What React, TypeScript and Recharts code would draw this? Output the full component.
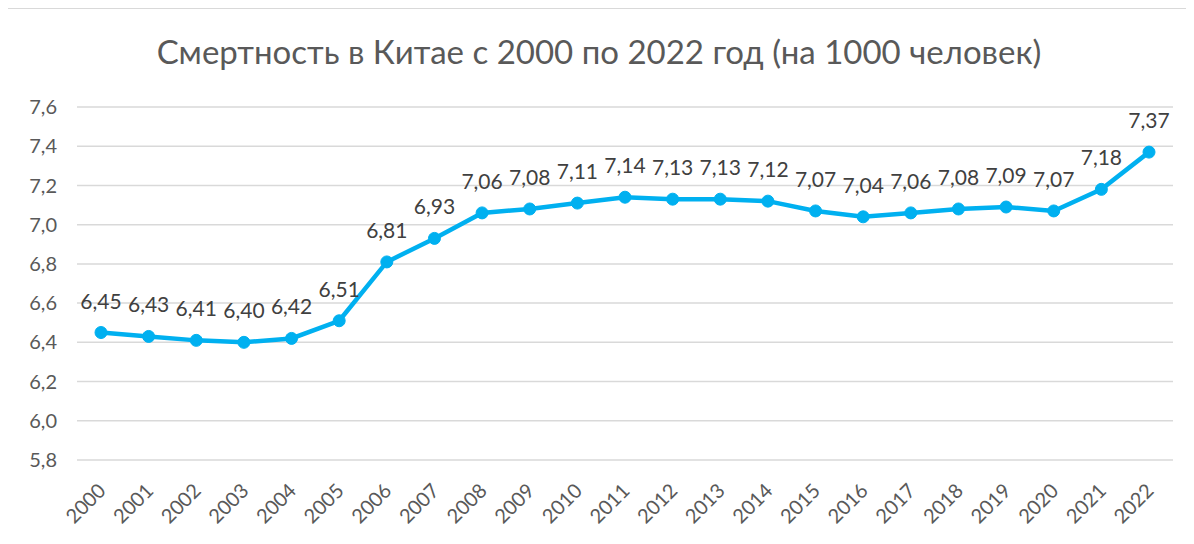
import React from "react";
import {
  LineChart,
  Line,
  XAxis,
  YAxis,
  CartesianGrid,
  LabelList,
} from "recharts";

const years = [
  "2000", "2001", "2002", "2003", "2004", "2005", "2006", "2007", "2008", "2009", "2010", "2011",
  "2012", "2013", "2014", "2015", "2016", "2017", "2018", "2019", "2020", "2021", "2022",
];
const deathRate = [
  6.45, 6.43, 6.41, 6.4, 6.42, 6.51, 6.81, 6.93, 7.06, 7.08, 7.11, 7.14,
  7.13, 7.13, 7.12, 7.07, 7.04, 7.06, 7.08, 7.09, 7.07, 7.18, 7.37,
];
const yTicks = [5.8, 6.0, 6.2, 6.4, 6.6, 6.8, 7.0, 7.2, 7.4, 7.6];

const data = years.map((year, i) => ({ year, rate: deathRate[i] }));

const fmt = (v: number, digits: number) => v.toFixed(digits).replace(".", ",");

const FONT = "Lato, 'Open Sans', sans-serif";

const YearTick = (props: any) => {
  const { x, y, payload } = props;
  return (
    <g transform={`translate(${x + 6},${y + 24})`}>
      <text
        textAnchor="end"
        transform="rotate(-45)"
        fill="#595959"
        fontSize={20}
        fontFamily={FONT}
      >
        {payload.value}
      </text>
    </g>
  );
};

const App: React.FC = () => {
  return (
    <div
      style={{
        position: "relative",
        width: 1186,
        height: 545,
        marginLeft: -2,
        border: "1px solid #d9d9d9",
        boxSizing: "border-box",
        background: "#fff",
      }}
    >
      <div
        style={{
          position: "absolute",
          top: 22,
          left: 0,
          width: "100%",
          textAlign: "center",
          fontFamily: FONT,
          fontSize: 33,
          color: "#595959",
        }}
      >
        Смертность в Китае с 2000 по 2022 год (на 1000 человек)
      </div>
      <LineChart
        width={1186}
        height={545}
        data={data}
        margin={{ top: 98, right: 20, bottom: 34, left: 0 }}
      >
        <CartesianGrid vertical={false} stroke="#d9d9d9" strokeWidth={1.5} />
        <XAxis
          dataKey="year"
          interval={0}
          axisLine={false}
          tickLine={false}
          height={60}
          padding={{ left: 24, right: 24 }}
          tick={<YearTick />}
        />
        <YAxis
          domain={[5.8, 7.6]}
          ticks={yTicks}
          width={70}
          axisLine={false}
          tickLine={false}
          tickSize={0}
          tickMargin={20}
          tickFormatter={(v: number) => fmt(v, 1)}
          tick={{ fill: "#595959", fontSize: 20, fontFamily: FONT }}
        />
        <Line
          type="linear"
          dataKey="rate"
          stroke="#00b0f0"
          strokeWidth={4.5}
          dot={{ r: 6, fill: "#00b0f0", stroke: "#00b0f0", strokeWidth: 1 }}
          isAnimationActive={false}
        >
          <LabelList
            dataKey="rate"
            position="top"
            offset={24}
            formatter={(v: any) => fmt(Number(v), 2)}
            style={{ fill: "#404040", fontSize: 21, fontFamily: FONT }}
          />
        </Line>
      </LineChart>
    </div>
  );
};

export default App;
